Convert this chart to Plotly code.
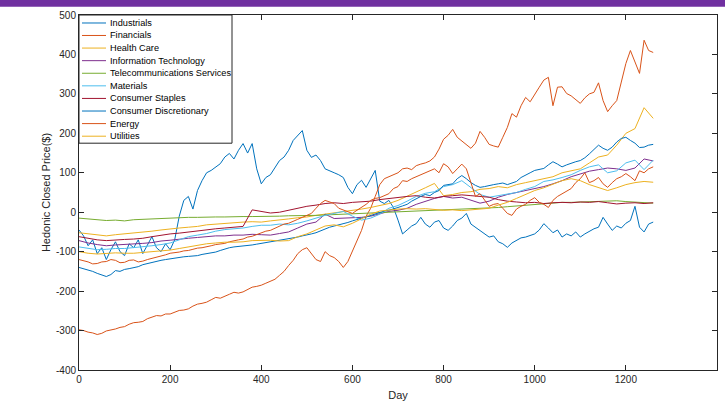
import plotly.graph_objects as go

days = list(range(0, 1261, 20))
days_fine = list(range(0, 1261, 10))

x_ticks = [0, 200, 400, 600, 800, 1000, 1200, 1400]
x_tick_labels = ["0", "200", "400", "600", "800", "1000", "1200", "1400"]
y_ticks = [-400, -300, -200, -100, 0, 100, 200, 300, 400, 500]
y_tick_labels = ["-400", "-300", "-200", "-100", "0", "100", "200", "300", "400", "500"]

# sampled every 10 days
industrials = [-45, -60, -85, -70, -105, -90, -120, -95, -75, -100,
               -110, -80, -90, -70, -105, -85, -62, -90, -100, -80,
               -95, -70, -10, 30, 40, 8, 55, 80, 100, 106,
               115, 123, 140, 149, 135, 157, 174, 150, 174, 110,
               72, 88, 95, 114, 131, 140, 157, 182, 195, 207,
               157, 139, 145, 131, 110, 106, 100, 95, 88, 63,
               47, 70, 81, 63, 85, 106, 28, 22, 30, 12,
               -20, -55, -45, -35, -29, -13, -30, -38, -25, -21,
               -40, -46, -35, -21, -15, -3, -30, -38, -46, -55,
               -63, -60, -75, -80, -89, -78, -72, -65, -63, -58,
               -55, -45, -29, -40, -52, -45, -63, -55, -60, -50,
               -63, -55, -48, -42, -38, -13, -30, -46, -35, -40,
               -28, -21, 15, -38, -50, -30, -25]
financials = [-298, -300, -304, -306, -310, -307, -301, -299, -296, -292,
              -290, -284, -280, -279, -277, -270, -266, -262, -263, -258,
              -258, -254, -249, -248, -245, -238, -233, -231, -228, -222,
              -216, -218, -214, -208, -203, -205, -202, -195, -190, -188,
              -185, -180, -175, -170, -160, -150, -135, -122, -105, -95,
              -90, -105, -120, -125, -100, -110, -115, -125, -140, -125,
              -100, -75, -46, -10, 10, 40, 70, 85, 90, 95,
              100, 110, 112, 108, 118, 122, 125, 130, 140, 160,
              185, 195, 210, 190, 180, 170, 162, 175, 205, 190,
              172, 168, 165, 190, 215, 250, 241, 270, 291, 280,
              300, 317, 335, 342, 270, 317, 318, 301, 295, 285,
              276, 290, 300, 304, 328, 283, 255, 270, 283, 330,
              377, 410, 380, 352, 436, 410, 405]
energy = [-120, -123, -126, -131, -130, -126, -125, -120, -122, -128,
          -127, -122, -121, -126, -124, -120, -117, -115, -112, -108,
          -104, -103, -101, -98, -97, -94, -91, -90, -88, -85,
          -82, -80, -79, -75, -72, -70, -68, -63, -61, -56,
          -52, -48, -46, -40, -36, -30, -28, -22, -18, -13,
          -8, -3, 10, 22, 30, 25, 22, 10, 5, 0,
          -3, 5, 12, 20, 30, 35, 37, 42, 47, 60,
          65, 80, 78, 85, 90, 95, 98, 105, 110, 100,
          123, 115, 98, 110, 122, 110, 72, 40, 47, 30,
          15, 20, 22, 10, -3, -8, 8, 15, 20, 30,
          37, 25, 20, 12, 30, 40, 47, 55, 60, 75,
          85, 100, 75, 80, 88, 72, 63, 75, 85, 90,
          98, 90, 80, 105, 100, 110, 115]
consumer_disc = [-140, -143, -146, -150, -155, -160, -163, -158, -148, -150,
                 -145, -143, -140, -138, -133, -130, -128, -125, -122, -120,
                 -118, -116, -114, -113, -112, -111, -110, -107, -105, -103,
                 -101, -97, -93, -90, -88, -87, -85, -84, -83, -81,
                 -79, -78, -76, -73, -71, -69, -67, -65, -63, -60,
                 -58, -55, -52, -47, -42, -38, -35, -32, -30, -26,
                 -22, -18, -15, -12, -8, -4, 0, 3, 5, 8,
                 12, 16, 20, 28, 35, 40, 45, 42, 50, 55,
                 68, 70, 72, 85, 93, 85, 75, 68, 63, 65,
                 68, 70, 72, 74, 70, 75, 78, 88, 95, 100,
                 106, 108, 111, 120, 128, 122, 115, 120, 125, 128,
                 131, 138, 148, 160, 170, 162, 157, 165, 178, 187,
                 190, 182, 175, 164, 165, 170, 172]

# sampled every 20 days
health_care = [-52, -55, -58, -60, -57, -55, -52, -50, -48, -45,
               -42, -40, -38, -36, -32, -30, -28, -27, -25, -24,
               -25, -22, -20, -17, -14, -12, -8, -5, -2, 2,
               5, 8, 12, 17, 22, 30, 40, 52, 62, 73,
               42, 45, 50, 52, 58, 60, 65, 62, 70, 75,
               80, 85, 90, 100, 105, 110, 125, 140, 145, 170,
               200, 212, 265, 238]
info_tech = [-72, -78, -82, -85, -83, -82, -80, -79, -77, -73,
             -71, -68, -66, -64, -62, -60, -60, -58, -58, -56,
             -57, -58, -54, -50, -40, -30, -25, -5, -16, -15,
             -14, -13, -10, -3, 2, 5, 10, 20, 28, 35,
             40, 36, 38, 30, 23, 28, 38, 45, 50, 55,
             60, 65, 72, 80, 90, 98, 104, 108, 112, 110,
             106, 112, 135, 130]
telecom = [-15, -17, -19, -21, -20, -22, -19, -18, -17, -15,
           -14, -13, -13, -13, -12, -12, -12, -11, -11, -11,
           -11, -10, -10, -9, -9, -8, -8, -7, -6, -5,
           -5, -4, -3, -2, -1, 1, 2, 3, 4, 5,
           6, 7, 8, 9, 10, 11, 12, 14, 16, 18,
           20, 22, 24, 25, 25, 26, 26, 27, 28, 29,
           27, 26, 24, 23]
materials = [-88, -92, -95, -94, -92, -92, -90, -87, -85, -82,
             -78, -70, -62, -58, -54, -48, -44, -42, -40, -36,
             -33, -33, -30, -32, -28, -22, -15, -8, -3, 2,
             -10, -20, -15, -5, 10, 17, 28, 40, 48, 52,
             65, 70, 80, 62, 45, 38, 42, 45, 50, 58,
             65, 78, 82, 88, 95, 106, 115, 120, 100, 105,
             125, 132, 108, 132]
consumer_staples = [-62, -66, -70, -72, -70, -69, -68, -66, -62, -58,
                    -55, -53, -50, -47, -44, -42, -40, -38, -36, 6,
                    2, -2, 0, 5, 10, 15, 18, 22, 24, 22,
                    25, 26, 28, 32, 35, 38, 40, 42, 38, 36,
                    40, 42, 44, 42, 40, 38, 32, 28, 26, 24,
                    25, 22, 24, 25, 24, 26, 25, 27, 24, 21,
                    23, 24, 22, 24]
utilities = [-100, -104, -106, -105, -103, -104, -104, -102, -100, -98,
             -96, -92, -88, -85, -80, -78, -76, -76, -75, -72,
             -72, -71, -73, -72, -62, -55, -45, -35, -32, -37,
             -28, -16, -5, 3, 6, 8, 9, 8, 9, 7,
             5, 6, 4, 6, 8, 10, 18, 25, 35, 45,
             55, 62, 72, 80, 85, 80, 70, 62, 55, 62,
             70, 75, 78, 76]

names = ["Industrials", "Financials", "Health Care", "Information Technology",
         "Telecommunications Services", "Materials", "Consumer Staples",
         "Consumer Discretionary", "Energy", "Utilities"]
series = [industrials, financials, health_care, info_tech, telecom,
          materials, consumer_staples, consumer_disc, energy, utilities]
xs = [days_fine, days_fine, days, days, days, days, days, days_fine, days_fine, days]
colors = ["#0072BD", "#D95319", "#EDB120", "#7E2F8E", "#77AC30",
          "#4DBEEE", "#A2142F", "#0072BD", "#D95319", "#EDB120"]

fig = go.Figure()
for name, xv, vals, col in zip(names, xs, series, colors):
    fig.add_trace(go.Scatter(x=xv, y=vals, mode="lines", name=name,
                             line=dict(color=col, width=1), showlegend=False))

axis_col = "#262626"
font_fam = "Liberation Sans, Arial, sans-serif"

# plot area geometry (pixels) for the hand-drawn legend
L, T, W, H = 79, 14.7, 638, 355.3
def px(xp):
    return (xp - L) / W
def py(yp):
    return 1 - (yp - T) / H

shapes = [
    dict(type="rect", xref="paper", yref="paper", x0=-0.2, x1=1.2,
         y0=py(6.5), y1=py(-2), fillcolor="#7030A0", line=dict(width=0), layer="above"),
    dict(type="rect", xref="paper", yref="paper", x0=px(79), x1=px(232),
         y0=py(143), y1=py(14.7), fillcolor="white",
         line=dict(color=axis_col, width=1), layer="above"),
]
annotations = []
entry_y = [22.7, 35.2, 47.8, 60.4, 73.0, 85.6, 98.2, 110.8, 123.4, 136.0]
for name, col, yc in zip(names, colors, entry_y):
    shapes.append(dict(type="line", xref="paper", yref="paper", x0=px(82), x1=px(106),
                       y0=py(yc), y1=py(yc), line=dict(color=col, width=1), layer="above"))
    annotations.append(dict(xref="paper", yref="paper", x=px(108), y=py(yc), text=name,
                            showarrow=False, xanchor="left", yanchor="middle",
                            font=dict(family=font_fam, size=9.2, color="#000000")))

fig.update_layout(
    width=725, height=401,
    margin=dict(l=79, r=8, t=15, b=31, autoexpand=False),
    paper_bgcolor="white", plot_bgcolor="white",
    font=dict(family=font_fam, size=10, color=axis_col),
    shapes=shapes, annotations=annotations,
    showlegend=False,
)
fig.update_xaxes(range=[0, 1400], tickvals=x_ticks, ticktext=x_tick_labels,
                 ticks="inside", ticklen=5, tickcolor=axis_col, showline=True,
                 linecolor=axis_col, linewidth=1, mirror="ticks", showgrid=False,
                 zeroline=False, automargin=False,
                 title=dict(text="Day", standoff=8, font=dict(size=11, color=axis_col)))
fig.update_yaxes(range=[-400, 500], tickvals=y_ticks, ticktext=y_tick_labels,
                 ticks="inside", ticklen=5, tickcolor=axis_col, showline=True,
                 linecolor=axis_col, linewidth=1, mirror="ticks", showgrid=False,
                 zeroline=False, automargin=False,
                 title=dict(text="Hedonic Closed Price($)", standoff=3,
                            font=dict(size=11, color=axis_col)))

fig.write_html("out.html", config={"displayModeBar": False},
               post_script="document.body.style.margin='0';document.body.style.padding='0';")
